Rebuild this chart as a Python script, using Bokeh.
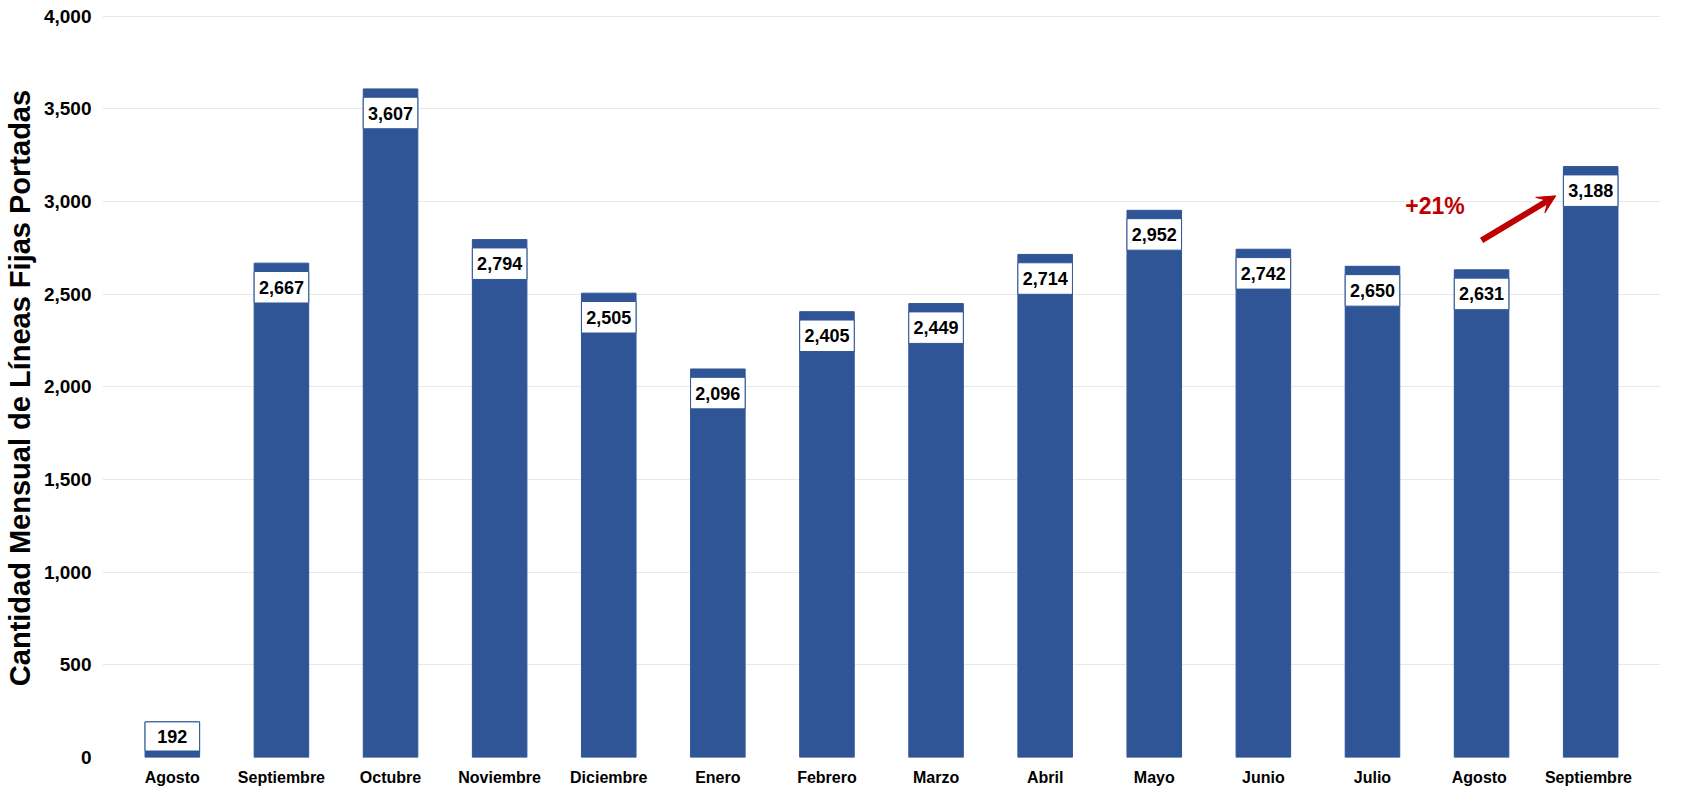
from bokeh.plotting import figure
from bokeh.models import ColumnDataSource, FactorRange, NumeralTickFormatter, Arrow, VeeHead, Label
from bokeh.embed import file_html
from bokeh.resources import INLINE

months = ["Agosto", "Septiembre", "Octubre", "Noviembre", "Diciembre", "Enero", "Febrero",
          "Marzo", "Abril", "Mayo", "Junio", "Julio", "Agosto ", "Septiembre "]
values = [192, 2667, 3607, 2794, 2505, 2096, 2405, 2449, 2714, 2952, 2742, 2650, 2631, 3188]

blue = "#2F5597"
box_top = [v - 45 if v > 500 else v for v in values]
box_bot = [v - 215 if v > 500 else 35 for v in values]
src = ColumnDataSource(dict(m=months, v=values, bt=box_top, bb=box_bot,
                            mid=[(a + b) / 2 for a, b in zip(box_top, box_bot)],
                            lab=[f"{v:,}" for v in values]))

p = figure(x_range=FactorRange(*months), y_range=(0, 4030), width=1665, height=788,
           output_backend="svg", toolbar_location=None, min_border_left=20, min_border_top=10)
p.vbar(x="m", top="v", width=0.5, color=blue, source=src)
p.vbar(x="m", top="bt", bottom="bb", width=0.5, fill_color="white", line_color=blue,
       line_width=1, source=src)
p.text(x="m", y="mid", text="lab", source=src, text_align="center", text_baseline="middle",
       text_font_size="18px", text_font_style="bold", text_color="black")

p.add_layout(Arrow(end=VeeHead(size=18, fill_color="#C00000", line_color="#C00000"),
                   x_start=12.5, y_start=2790, x_end=13.18, y_end=3030,
                   line_color="#C00000", line_width=6))
p.add_layout(Label(x=11.8, y=2975, text="+21%", text_color="#C00000", text_font_size="23px",
                   text_font_style="bold", text_baseline="middle"))

p.yaxis.axis_label = "Cantidad Mensual de Líneas Fijas  Portadas"
p.yaxis.axis_label_text_font_size = "29px"
p.yaxis.axis_label_text_font_style = "bold"
p.yaxis.axis_label_text_color = "black"
p.yaxis.formatter = NumeralTickFormatter(format="0,0")
p.yaxis.ticker = list(range(0, 4001, 500))
p.yaxis.major_label_text_font_size = "19px"
p.yaxis.major_label_text_font_style = "bold"
p.xaxis.major_label_text_font_size = "16px"
p.xaxis.major_label_text_font_style = "bold"
p.axis.major_label_text_color = "black"
p.axis.axis_line_color = None
p.axis.major_tick_line_color = None
p.axis.minor_tick_line_color = None
p.xgrid.grid_line_color = None
p.ygrid.grid_line_color = "#E8E8E8"
p.outline_line_color = None
p.x_range.range_padding = 0.02

open("out.html", "w").write(file_html(p, INLINE))
